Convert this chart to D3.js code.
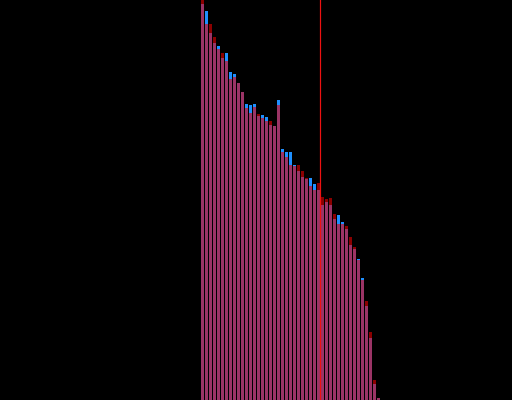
<!DOCTYPE html>
<html>
<head>
<meta charset="utf-8">
<script src="https://cdn.jsdelivr.net/npm/d3@7"></script>
<style>
html,body{margin:0;padding:0;background:#000;}
svg{display:block;}
</style>
</head>
<body>
<script>
const categories = d3.range(1, 46).map(String);
const seriesRed = [100, 94, 94, 90.75, 87.75, 86.75, 84.75, 80.25, 80.75, 79.25,
  77, 73, 71.75, 73.25, 71.5, 70.5, 69.75, 69.75, 68.5, 73.75,
  62, 60.75, 58.75, 58.5, 58.75, 57.25, 55.5, 53.5, 52.5, 54.25,
  50.75, 50.25, 50.5, 46.5, 44, 44, 43.5, 40.75, 38.25, 35,
  30, 24.75, 17, 5, 0.5];
const seriesBlue = [99, 97.25, 91.75, 89.25, 88.5, 85.5, 86.75, 82, 81.5, 79.25,
  77, 74, 73.75, 74, 71, 71.25, 70.75, 68.75, 68.5, 75,
  62.75, 62, 62, 58.75, 57.25, 55.75, 55.25, 55.5, 54, 52.5,
  48.75, 49.5, 48.75, 45.25, 46.25, 44.5, 42.75, 38.75, 37.75, 35.25,
  30.5, 23.5, 15.5, 4, 0.5];
const markerCategory = "31";
const yDomain = [0, 100];

const W = 512, H = 400;
const svg = d3.select("body").append("svg").attr("width", W).attr("height", H)
  .style("background", "#000");

const x = d3.scaleBand().domain(categories).range([200.5, 380.5])
  .paddingInner(0.25).paddingOuter(0.125);
const y = d3.scaleLinear().domain(yDomain).range([H, 0]);

const data = categories.map((c, i) => ({c, r: seriesRed[i], b: seriesBlue[i], m: Math.min(seriesRed[i], seriesBlue[i])}));

function bars(key, color, cls) {
  svg.append("g").selectAll("rect").data(data).join("rect")
    .attr("class", cls)
    .attr("x", d => x(d.c))
    .attr("width", x.bandwidth())
    .attr("y", d => y(d[key]))
    .attr("height", d => y(0) - y(d[key]))
    .attr("fill", color);
}
bars("r", "#8b0000", "red");
bars("b", "#1e90ff", "blue");
bars("m", "#9b3466", "overlap");

const mx = x(markerCategory) - x.step() * x.paddingInner() / 2;
svg.append("line")
  .attr("x1", mx).attr("x2", mx)
  .attr("y1", 0).attr("y2", H)
  .attr("stroke", "#ee1111").attr("stroke-width", 1.2);
</script>
</body>
</html>
